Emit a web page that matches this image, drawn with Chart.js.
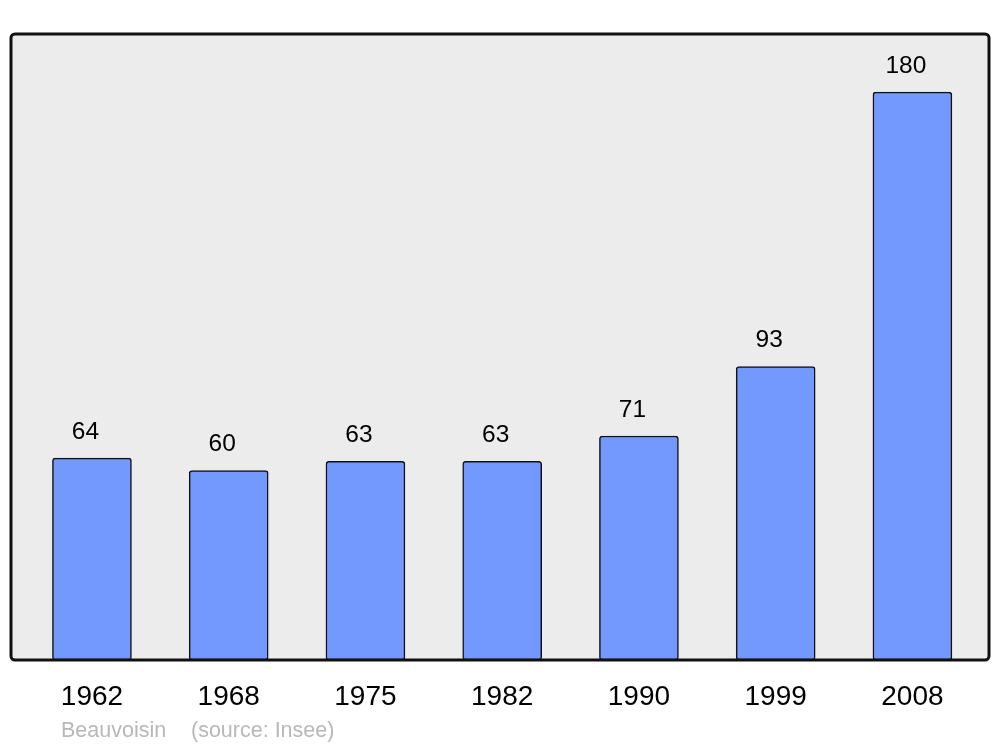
<!DOCTYPE html>
<html>
<head>
<meta charset="utf-8">
<script src="https://cdn.jsdelivr.net/npm/chart.js@4/dist/chart.umd.min.js"></script>
<style>
html,body{margin:0;padding:0;background:#fff;}
#wrap{width:1000px;height:747px;position:relative;}
</style>
</head>
<body>
<div id="wrap"><canvas id="c" width="1000" height="747"></canvas></div>
<script>
const years = ['1962','1968','1975','1982','1990','1999','2008'];
const population = [64, 60, 63, 63, 71, 93, 180];
const townName = 'Beauvoisin';
const sourceText = '(source: Insee)';

const FONT = "'Liberation Sans', Arial, sans-serif";

const plotBg = {
  id: 'plotBg',
  beforeDraw(chart) {
    const {ctx, chartArea: a} = chart;
    ctx.save();
    ctx.fillStyle = '#ececec';
    ctx.beginPath();
    ctx.roundRect(a.left, a.top, a.right - a.left, a.bottom - a.top, 4);
    ctx.fill();
    ctx.restore();
  },
  afterDatasetsDraw(chart) {
    const {ctx, chartArea: a} = chart;
    ctx.save();
    ctx.strokeStyle = '#111';
    ctx.lineWidth = 3;
    ctx.beginPath();
    ctx.roundRect(a.left, a.top, a.right - a.left, a.bottom - a.top, 4);
    ctx.stroke();
    // value labels
    const meta = chart.getDatasetMeta(0);
    ctx.fillStyle = '#000';
    ctx.font = '24.5px ' + FONT;
    ctx.textAlign = 'center';
    ctx.textBaseline = 'middle';
    meta.data.forEach((bar, i) => {
      ctx.fillText(String(population[i]), bar.x - 6.5, bar.y - 26);
    });
    // footer
    ctx.fillStyle = '#b8b8b8';
    ctx.font = '21.5px ' + FONT;
    ctx.textAlign = 'left';
    ctx.fillText(townName, 61, 731);
    ctx.fillText(sourceText, 191, 731);
    ctx.restore();
  }
};

new Chart(document.getElementById('c'), {
  type: 'bar',
  data: {
    datasets: [{
      data: population.map((v, i) => ({x: i, y: v})),
      backgroundColor: '#7399ff',
      borderColor: '#111',
      borderWidth: 1.5,
      borderRadius: 3,
      borderSkipped: false,
      barThickness: 79
    }]
  },
  options: {
    responsive: false,
    animation: false,
    devicePixelRatio: 1,
    layout: {padding: {left: 11, right: 11, top: 34, bottom: 0}},
    plugins: {legend: {display: false}, tooltip: {enabled: false}},
    scales: {
      x: {
        type: 'linear',
        offset: false,
        min: -0.592,
        max: 6.56,
        grid: {display: false, drawTicks: false},
        border: {display: false},
        afterBuildTicks(axis) { axis.ticks = years.map((_, i) => ({value: i})); },
        afterFit(axis) { axis.height = 87; },
        ticks: {
          callback: (v) => years[v],
          color: '#000',
          font: {family: FONT, size: 28},
          padding: 20,
          maxRotation: 0,
          autoSkip: false
        }
      },
      y: {
        display: false,
        min: 0,
        max: 198.4
      }
    }
  },
  plugins: [plotBg]
});
</script>
</body>
</html>
